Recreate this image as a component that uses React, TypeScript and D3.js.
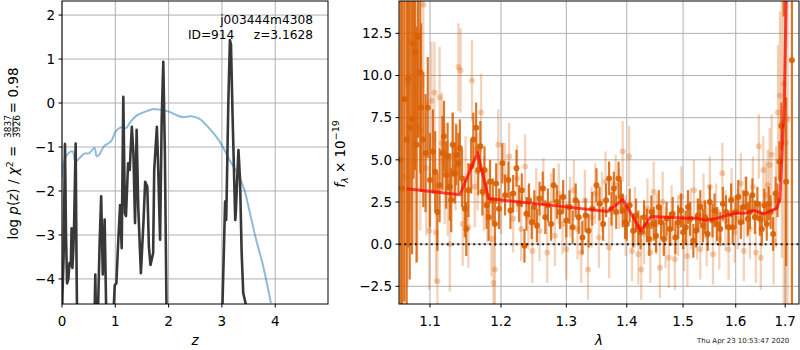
import React from 'react';
import * as d3 from 'd3';

// ---- left panel: redshift fit ----
const zTicks = [0, 1, 2, 3, 4];
const pTicks = [-4, -3, -2, -1, 0, 1, 2];

// prior / chi2 curve (blue)
const zBlue = [0, 0.04, 0.11, 0.2, 0.25, 0.33, 0.42, 0.51, 0.61, 0.65, 0.7, 0.79, 0.92, 1.01, 1.11, 1.2, 1.29, 1.42, 1.58, 1.7, 1.83, 2.02, 2.14, 2.26, 2.42, 2.58, 2.73, 2.89, 3.01, 3.14, 3.29, 3.42, 3.51, 3.64, 3.76, 3.92];
const pBlue = [-1.69, -1.32, -1.15, -1.1, -1.33, -1.25, -1.15, -1.14, -1.02, -1.21, -1.17, -0.98, -0.87, -0.64, -0.55, -0.57, -0.42, -0.27, -0.19, -0.14, -0.15, -0.2, -0.27, -0.32, -0.3, -0.36, -0.53, -0.76, -0.98, -1.29, -1.59, -1.97, -2.42, -3.1, -3.64, -4.55];

// log p(z) (dark)
const zDark = [0, 0.01, 0.03, 0.056, 0.075, 0.095, 0.12, 0.14, 0.165, 0.18, 0.195, 0.21, 0.225, 0.256, 0.275, 0.29, 0.35, 0.45, 0.55, 0.6, 0.625, 0.645, 0.67, 0.705, 0.735, 0.765, 0.8, 0.83, 0.87, 0.93, 0.96, 0.99, 1.02, 1.05, 1.09, 1.12, 1.15, 1.18, 1.2, 1.24, 1.27, 1.31, 1.34, 1.37, 1.4, 1.43, 1.48, 1.53, 1.56, 1.6, 1.63, 1.66, 1.71, 1.73, 1.78, 1.8, 1.84, 1.87, 1.9, 1.93, 1.96, 2.0, 2.5, 2.95, 3.01, 3.06, 3.08, 3.09, 3.12, 3.15, 3.17, 3.2, 3.25, 3.26, 3.31, 3.34, 3.37, 3.4, 3.45, 3.5];
const pDark = [-4.9, -4.3, -3.5, -0.93, -3.0, -4.1, -4.0, -3.64, -3.7, -2.85, -3.75, -3.4, -2.9, -0.92, -4.0, -5.5, -7, -8, -7, -5.5, -3.9, -5.5, -5.0, -3.22, -2.12, -3.9, -2.65, -4.8, -7, -6, -4.9, -4.14, -4.1, -3.27, -2.32, -3.3, 0.14, -2.5, -2.57, -1.37, -1.52, -0.54, -1.15, -2.73, -0.61, -2.36, -3.87, -2.66, -1.79, -1.9, -3.27, -3.68, -3.41, -1.52, -0.54, -1.29, -3.11, -0.39, 0.94, -1.15, -4.6, -7, -9, -7, -4.6, -2.24, -2.66, -2.06, 0.0, 1.43, 1.33, -0.3, -2.66, -2.5, -1.07, -1.75, -3.4, -4.32, -4.59, -5];

// ---- right panel: spectrum ----
const lamTicks = [1.1, 1.2, 1.3, 1.4, 1.5, 1.6, 1.7];
const fluxTicks = [-2.5, 0, 2.5, 5, 7.5, 10, 12.5];

const darkWave = [1.061, 1.063, 1.066, 1.069, 1.071, 1.073, 1.076, 1.078, 1.080, 1.082, 1.084, 1.087, 1.088, 1.091, 1.094, 1.097, 1.100, 1.104, 1.107, 1.110, 1.113, 1.117, 1.119, 1.122, 1.124, 1.127, 1.129, 1.131, 1.134, 1.136, 1.139, 1.141, 1.144, 1.148, 1.150, 1.153, 1.157, 1.160, 1.164, 1.167, 1.170, 1.173, 1.176, 1.179, 1.182, 1.184, 1.188, 1.191, 1.193, 1.197, 1.202, 1.206, 1.211, 1.214, 1.218, 1.223, 1.227, 1.231, 1.235, 1.238, 1.242, 1.246, 1.250, 1.254, 1.258, 1.263, 1.267, 1.271, 1.276, 1.280, 1.285, 1.290, 1.295, 1.300, 1.305, 1.310, 1.315, 1.320, 1.326, 1.331, 1.336, 1.342, 1.349, 1.354, 1.360, 1.365, 1.370, 1.374, 1.378, 1.382, 1.386, 1.390, 1.393, 1.397, 1.400, 1.405, 1.411, 1.416, 1.420, 1.424, 1.430, 1.435, 1.439, 1.443, 1.447, 1.451, 1.456, 1.460, 1.465, 1.470, 1.476, 1.481, 1.486, 1.491, 1.496, 1.500, 1.505, 1.509, 1.513, 1.519, 1.524, 1.528, 1.532, 1.537, 1.541, 1.546, 1.550, 1.555, 1.559, 1.564, 1.570, 1.575, 1.581, 1.586, 1.591, 1.594, 1.600, 1.605, 1.610, 1.615, 1.620, 1.624, 1.628, 1.633, 1.638, 1.643, 1.648, 1.652, 1.657, 1.662, 1.666, 1.670, 1.675, 1.680, 1.684, 1.688, 1.692, 1.697, 1.702, 1.714];
const darkFlux = [5.0, 3.3, 8.6, 6.2, 9.8, 6.9, 7.4, 11.9, 11.4, 5.9, 12.3, 10.2, 8.1, 6.2, 5.4, 8.1, 3.8, 5.5, 4.3, 1.9, 3.5, 5.4, 6.4, 4.1, 5.2, 3.4, 2.6, 5.9, 4.2, 5.3, 4.8, 5.7, 3.9, 2.1, 0.9, 3.2, 4.6, 6.2, 6.9, 4.4, 5.8, 3.1, 4.4, 2.3, 1.6, 3.7, 2.6, 1.2, 3.6, 2.1, 4.8, 2.9, 3.8, 2.0, 3.0, 4.5, 2.4, 3.2, -0.1, 1.8, 2.6, 1.3, 2.2, 1.1, 2.7, 3.3, 1.6, 2.3, 1.2, 3.5, 2.5, 1.9, 2.8, 1.4, 2.2, 1.0, 2.6, 1.6, 0.4, 1.7, 0.8, 2.1, 3.5, 2.4, 1.2, 2.6, 3.9, 2.1, 3.3, 1.9, 3.9, 2.8, 2.0, 1.3, 1.2, 2.3, 0.8, 1.7, 1.0, 0.7, 1.6, 1.1, 0.3, 1.9, 1.2, 0.5, 2.2, 1.3, 0.3, 1.5, 0.9, 1.8, 0.4, 1.3, 2.0, 0.7, 1.0, 2.2, 1.5, 0.2, 0.8, 1.7, 2.2, 1.1, 1.6, 0.6, 2.5, 1.4, 2.0, 1.2, 0.9, 2.4, 1.9, 1.0, 2.6, 1.0, 1.9, 2.8, 1.3, 2.2, 3.0, 1.5, 1.9, 2.9, 1.6, 2.4, 1.5, 0.9, 2.3, 1.2, 2.4, 1.9, 0.6, 3.0, 2.6, 4.9, 7.0, 15.5, 3.7, 10.9];
const darkErr = [16, 14, 12, 11, 10, 9, 8, 8, 7, 7, 6, 6, 5, 4, 3.5, 3, 2.8, 2.5, 2.4, 2.3, 2.2, 2.2, 2.1, 2.0, 2.0, 2.0, 1.9, 1.9, 1.8, 1.8, 1.8, 1.7, 1.7, 1.7, 1.6, 1.6, 1.6, 1.6, 1.5, 1.5, 1.5, 1.4, 1.4, 1.4, 1.4, 1.3, 1.3, 1.3, 1.2, 1.2, 1.2, 1.2, 1.1, 1.1, 1.1, 1.1, 1.1, 1.0, 1.0, 1.0, 1.0, 1.0, 1.0, 1.0, 1.0, 1.0, 1.0, 1.0, 1.0, 1.0, 1.0, 1.0, 1.0, 1.0, 1.0, 1.0, 1.0, 1.0, 1.0, 1.0, 1.0, 1.0, 1.0, 1.0, 1.0, 1.0, 1.0, 1.0, 1.0, 1.0, 1.0, 1.0, 1.0, 1.0, 1.0, 1.0, 1.0, 1.0, 1.0, 1.0, 1.0, 1.0, 1.0, 1.0, 1.0, 1.0, 1.0, 1.0, 1.0, 1.0, 1.0, 1.0, 1.0, 1.0, 1.0, 1.0, 1.0, 1.0, 1.0, 1.0, 1.0, 1.0, 1.0, 1.0, 1.0, 1.0, 1.0, 1.0, 1.0, 1.0, 1.0, 1.0, 1.0, 1.0, 1.0, 1.0, 1.0, 1.0, 1.0, 1.0, 1.0, 1.0, 1.0, 1.0, 1.0, 1.0, 1.0, 1.0, 1.0, 1.0, 1.0, 1.0, 1.0, 1.0, 1.0, 1.2, 1.4, 2.0, 5, 22, 22, 22];

const lightWave = [1.065, 1.070, 1.074, 1.079, 1.083, 1.087, 1.091, 1.095, 1.099, 1.102, 1.106, 1.108, 1.110, 1.113, 1.116, 1.120, 1.124, 1.127, 1.131, 1.135, 1.139, 1.142, 1.145, 1.149, 1.153, 1.158, 1.162, 1.166, 1.171, 1.175, 1.180, 1.186, 1.189, 1.191, 1.196, 1.200, 1.206, 1.212, 1.218, 1.224, 1.230, 1.236, 1.241, 1.247, 1.253, 1.258, 1.264, 1.270, 1.276, 1.282, 1.288, 1.294, 1.300, 1.306, 1.312, 1.318, 1.324, 1.330, 1.335, 1.341, 1.347, 1.353, 1.358, 1.364, 1.370, 1.375, 1.381, 1.387, 1.393, 1.398, 1.404, 1.409, 1.414, 1.420, 1.425, 1.430, 1.436, 1.441, 1.447, 1.452, 1.458, 1.463, 1.468, 1.474, 1.479, 1.485, 1.491, 1.497, 1.502, 1.508, 1.514, 1.520, 1.526, 1.532, 1.538, 1.544, 1.550, 1.556, 1.562, 1.568, 1.574, 1.580, 1.586, 1.592, 1.598, 1.604, 1.610, 1.616, 1.622, 1.628, 1.634, 1.640, 1.646, 1.650, 1.655, 1.660, 1.664, 1.668, 1.672, 1.676, 1.681, 1.685, 1.689, 1.693, 1.697, 1.701, 1.705];
const lightFlux = [4.0, 9.5, 12.0, 9.0, 7.0, 6.8, 14.2, 4.5, 0.8, 8.5, 9.0, 0.7, -2.2, 8.7, 6.0, 4.2, 3.3, 0.0, 5.2, 4.6, 10.5, 10.3, 1.2, 3.9, 1.0, 9.7, 3.4, 4.3, 7.8, 3.0, 2.3, 0.3, -2.3, -1.5, 5.9, 2.6, 4.0, 5.2, 1.5, 3.9, 0.9, 4.6, 1.6, -0.4, 2.7, 0.8, 3.3, -0.5, 2.4, 0.5, 3.0, 1.2, -0.3, 2.2, 3.2, 0.9, -0.5, 2.6, -1.5, 1.6, 3.0, 0.4, 2.5, 3.7, -0.2, 1.9, 3.5, 2.7, 5.5, 1.1, 5.2, -0.4, 1.6, -0.6, -1.5, 0.6, 2.1, -0.5, 3.1, 1.2, -1.4, 2.5, 0.4, -0.8, 1.7, -0.9, 1.1, 2.8, 0.2, -0.7, 1.5, 3.2, 0.9, -0.3, 2.4, 0.5, 3.4, -0.6, 1.8, 0.3, 4.2, 1.4, -0.3, 2.7, 0.7, 1.5, 3.6, -0.4, 2.2, 0.9, 3.4, -0.5, 5.8, -0.8, 4.4, 2.9, 3.5, 4.7, 5.3, 0.2, 2.8, 7.8, 8.8, 7.2, 9.5, 6.0, 7.4];
const lightErr = [14, 12, 10, 9, 8, 6, 5, 4, 3.5, 3.5, 3, 3, 3, 3, 3, 3, 2.8, 2.8, 2.6, 2.6, 2.6, 2.5, 2.5, 2.5, 2.4, 2.4, 2.4, 2.3, 2.3, 2.2, 2.2, 2.2, 2.2, 2.1, 2.1, 2.0, 2.0, 2.0, 2.0, 2.0, 1.9, 1.9, 1.9, 1.9, 1.8, 1.8, 1.8, 1.8, 1.8, 1.8, 1.8, 1.8, 1.8, 1.8, 1.8, 1.8, 1.8, 1.8, 1.8, 1.8, 1.8, 1.8, 1.8, 1.8, 1.8, 1.8, 1.8, 1.8, 1.8, 1.8, 1.8, 1.8, 1.8, 1.8, 1.8, 1.8, 1.8, 1.8, 1.8, 1.8, 1.8, 1.8, 1.8, 1.8, 1.8, 1.8, 1.8, 1.8, 1.8, 1.8, 1.8, 1.8, 1.8, 1.8, 1.8, 1.8, 1.8, 1.8, 1.8, 1.8, 1.8, 1.8, 1.8, 1.8, 1.8, 1.8, 1.8, 1.8, 1.8, 1.8, 1.8, 1.8, 1.9, 1.9, 2.0, 2.0, 2.1, 2.2, 2.4, 2.6, 3, 4, 5, 8, 14, 18, 18];

// best-fit model (red)
const modelWave = [1.069, 1.141, 1.166, 1.182, 1.292, 1.368, 1.393, 1.407, 1.424, 1.442, 1.499, 1.525, 1.542, 1.56, 1.587, 1.6, 1.62, 1.636, 1.656, 1.683, 1.689, 1.698, 1.703];
const modelFlux = [3.29, 2.93, 5.42, 2.7, 2.24, 1.94, 2.64, 1.85, 0.79, 1.64, 1.55, 1.53, 1.42, 1.5, 1.74, 1.83, 1.85, 2.0, 1.8, 2.14, 2.64, 8.2, 16];

const FONT = 'DejaVu Sans, sans-serif';
const GRID = '#b0b0b0';
const ORANGE = '#d95f02';

export default function App() {
  const xL = d3.scaleLinear().domain([0, 4.99]).range([62, 328]);
  const yL = d3.scaleLinear().domain([-4.57, 2.32]).range([304, 1]);
  const xR = d3.scaleLog().domain([1.059, 1.729]).range([399, 799]);
  const yR = d3.scaleLinear().domain([-3.55, 14.42]).range([304, 1]);

  const blueLine = d3.line<number>().x((d, i) => xL(zBlue[i])).y(d => yL(d)).curve(d3.curveCatmullRom);
  const darkLine = d3.line<number>().x((d, i) => xL(zDark[i])).y(d => yL(d));
  const modelLine = d3.line<number>().x((d, i) => xR(modelWave[i])).y(d => yR(d));

  const fmtR = d3.format('.1f');
  const fmtL = d3.format('d');

  const [l0, l1] = xL.range();
  const [lb, lt] = yL.range();
  const [r0, r1] = xR.range();
  const [rb, rt] = yR.range();

  return (
    <svg width={800} height={350} style={{ position: 'absolute', left: 0, top: 0, background: '#fff' }} fontFamily={FONT}>
      <defs>
        <clipPath id="clipL"><rect x={l0} y={lt} width={l1 - l0} height={lb - lt} /></clipPath>
        <clipPath id="clipR"><rect x={r0} y={rt} width={r1 - r0} height={rb - rt} /></clipPath>
      </defs>

      {/* ---------- left panel ---------- */}
      <g>
        {zTicks.map(t => (
          <line key={'gz' + t} x1={xL(t)} x2={xL(t)} y1={lt} y2={lb} stroke={GRID} strokeWidth={1} />
        ))}
        {pTicks.map(t => (
          <line key={'gp' + t} x1={l0} x2={l1} y1={yL(t)} y2={yL(t)} stroke={GRID} strokeWidth={1} />
        ))}
        <g clipPath="url(#clipL)">
          <path d={blueLine(pBlue) || ''} fill="none" stroke="#1f77b4" strokeOpacity={0.5} strokeWidth={2} />
          <path d={darkLine(pDark) || ''} fill="none" stroke="#383838" strokeWidth={2.6} strokeLinejoin="round" />
        </g>
        <rect x={l0} y={lt} width={l1 - l0} height={lb - lt} fill="none" stroke="#000" strokeWidth={1} />
        {zTicks.map(t => (
          <g key={'tz' + t}>
            <line x1={xL(t)} x2={xL(t)} y1={lb} y2={lb + 3.5} stroke="#000" />
            <text x={xL(t)} y={326} textAnchor="middle" fontSize={13.5}>{fmtL(t)}</text>
          </g>
        ))}
        {pTicks.map(t => (
          <g key={'tp' + t}>
            <line x1={l0 - 3.5} x2={l0} y1={yL(t)} y2={yL(t)} stroke="#000" />
            <text x={l0 - 7} y={yL(t)} dy="0.35em" textAnchor="end" fontSize={13.5}>{fmtL(t)}</text>
          </g>
        ))}
        <text x={(l0 + l1) / 2} y={345} textAnchor="middle" fontSize={13.5} fontStyle="italic">z</text>
        <text x={313} y={24} textAnchor="end" fontSize={12.2}>j003444m4308</text>
        <text x={313} y={39} textAnchor="end" fontSize={12.2} style={{ whiteSpace: 'pre' }}>{'ID=914     z=3.1628'}</text>
        <g transform="translate(18,153.5) rotate(-90)" fontSize={13.5}>
          <text x={-86} y={0} textAnchor="start">
            log <tspan fontStyle="italic">p</tspan>(<tspan fontStyle="italic">z</tspan>) / <tspan fontStyle="italic">χ</tspan>
            <tspan fontSize={9.5} dy={-5.5}>2</tspan><tspan dy={5.5}> =</tspan>
          </text>
          <text x={27} y={-7.5} textAnchor="middle" fontSize={9}>3837</text>
          <line x1={18.5} x2={35.5} y1={-5} y2={-5} stroke="#000" strokeWidth={0.8} />
          <text x={27} y={2} textAnchor="middle" fontSize={9}>3926</text>
          <text x={86} y={0} textAnchor="end">= 0.98</text>
        </g>
      </g>

      {/* ---------- right panel ---------- */}
      <g>
        {lamTicks.map(t => (
          <line key={'gl' + t} x1={xR(t)} x2={xR(t)} y1={rt} y2={rb} stroke={GRID} strokeWidth={1} />
        ))}
        {fluxTicks.map(t => (
          <line key={'gf' + t} x1={r0} x2={r1} y1={yR(t)} y2={yR(t)} stroke={GRID} strokeWidth={1} />
        ))}
        <g clipPath="url(#clipR)">
          {lightWave.map((w, i) => (
            <line key={'le' + i} x1={xR(w)} x2={xR(w)} y1={yR(lightFlux[i] - lightErr[i])} y2={yR(lightFlux[i] + lightErr[i])}
              stroke={ORANGE} strokeOpacity={0.28} strokeWidth={2.3} />
          ))}
          {lightWave.map((w, i) => (
            <circle key={'lp' + i} cx={xR(w)} cy={yR(lightFlux[i])} r={3} fill={ORANGE} fillOpacity={0.3} />
          ))}
          {darkWave.map((w, i) => (
            <line key={'de' + i} x1={xR(w)} x2={xR(w)} y1={yR(darkFlux[i] - darkErr[i])} y2={yR(darkFlux[i] + darkErr[i])}
              stroke={ORANGE} strokeOpacity={0.85} strokeWidth={2.2} />
          ))}
          {darkWave.map((w, i) => (
            <circle key={'dp' + i} cx={xR(w)} cy={yR(darkFlux[i])} r={3} fill={ORANGE} fillOpacity={0.9} />
          ))}
          <path d={modelLine(modelFlux) || ''} fill="none" stroke="#ff0000" strokeOpacity={0.7} strokeWidth={3} strokeLinejoin="round" />
          <line x1={r0} x2={r1} y1={yR(0)} y2={yR(0)} stroke="#000" strokeWidth={2} strokeDasharray="2,3.3" strokeOpacity={0.85} />
        </g>
        <rect x={r0} y={rt} width={r1 - r0} height={rb - rt} fill="none" stroke="#000" strokeWidth={1} />
        {lamTicks.map(t => (
          <g key={'tl' + t}>
            <line x1={xR(t)} x2={xR(t)} y1={rb} y2={rb + 3.5} stroke="#000" />
            <text x={xR(t)} y={326} textAnchor="middle" fontSize={13.5}>{fmtR(t)}</text>
          </g>
        ))}
        {fluxTicks.map(t => (
          <g key={'tf' + t}>
            <line x1={r0 - 3.5} x2={r0} y1={yR(t)} y2={yR(t)} stroke="#000" />
            <text x={r0 - 7} y={yR(t)} dy="0.35em" textAnchor="end" fontSize={13.5}>{fmtR(t)}</text>
          </g>
        ))}
        <text x={(r0 + r1) / 2} y={345} textAnchor="middle" fontSize={13.5} fontStyle="italic">λ</text>
        <g transform="translate(345,154) rotate(-90)" fontSize={13.5}>
          <text x={0} y={0} textAnchor="middle">
            <tspan fontStyle="italic">f</tspan><tspan fontSize={9.5} dy={3} fontStyle="italic">λ</tspan>
            <tspan dy={-3}> × 10</tspan><tspan fontSize={9.5} dy={-6}>−19</tspan>
          </text>
        </g>
        <text x={697} y={342.5} fontSize={7} fill="#222">Thu Apr 23 10:53:47 2020</text>
      </g>
    </svg>
  );
}
